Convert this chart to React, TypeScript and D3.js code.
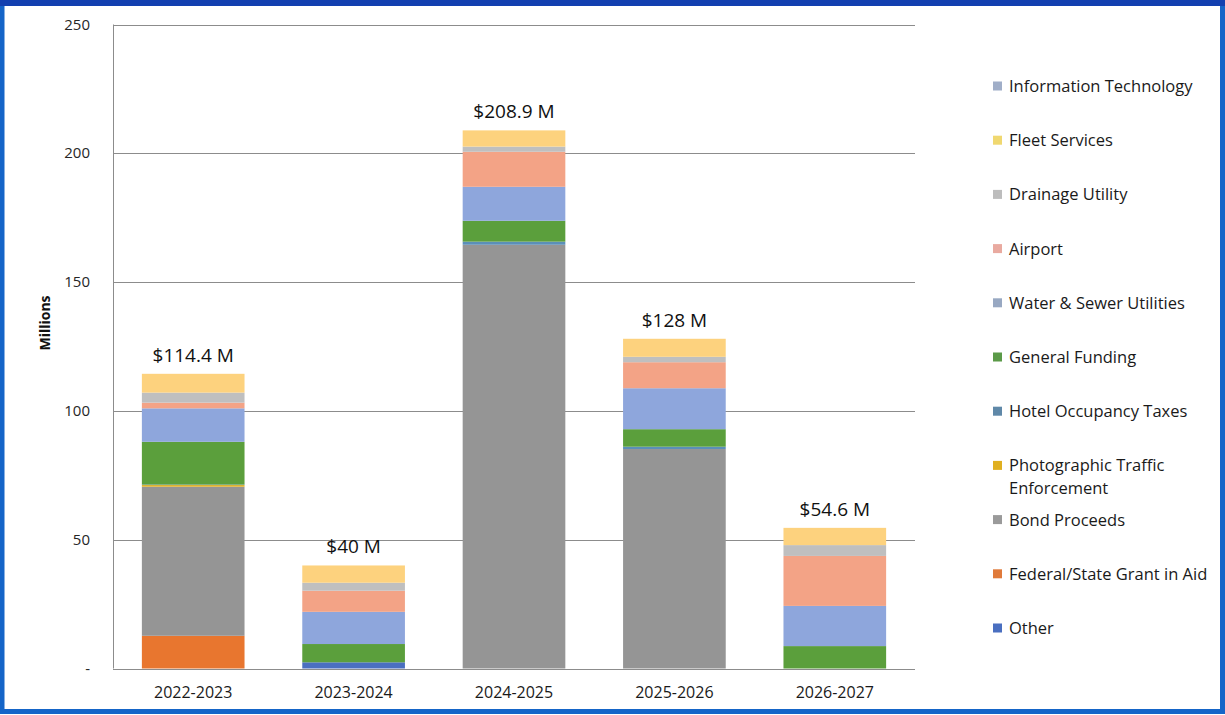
import React, { useEffect, useRef } from "react";
import * as d3 from "d3";

const categories = ["2022-2023", "2023-2024", "2024-2025", "2025-2026", "2026-2027"];
const seriesNames = [
  "Other",
  "Federal/State Grant in Aid",
  "Bond Proceeds",
  "Photographic Traffic Enforcement",
  "Hotel Occupancy Taxes",
  "General Funding",
  "Water & Sewer Utilities",
  "Airport",
  "Drainage Utility",
  "Fleet Services",
  "Information Technology",
];
const other = [0, 2.4, 0, 0, 0];
const federal = [12.7, 0, 0, 0, 0];
const bond = [57.9, 0, 164.5, 85.2, 0];
const photographic = [0.6, 0, 0, 0, 0];
const hotel = [0.2, 0, 1.2, 0.9, 0];
const general = [16.6, 7.1, 8.1, 6.8, 8.7];
const waterSewer = [13.0, 12.5, 13.2, 15.9, 15.6];
const airport = [2.2, 8.2, 13.6, 10.1, 19.4];
const drainage = [3.9, 3.1, 2.0, 2.1, 4.2];
const fleet = [7.3, 6.7, 6.3, 7.0, 6.7];
const infoTech = [0, 0, 0, 0, 0];
const totalLabels = ["$114.4 M", "$40 M", "$208.9 M", "$128 M", "$54.6 M"];
const yTicks = [0, 50, 100, 150, 200, 250];

const seriesValues = [other, federal, bond, photographic, hotel, general, waterSewer, airport, drainage, fleet, infoTech];
const colors = [
  "#4a6fc0",
  "#e8762f",
  "#959595",
  "#e8b010",
  "#5b8fb8",
  "#5b9f3c",
  "#8ea6dc",
  "#f3a386",
  "#bfbfbf",
  "#fdd27e",
  "#a3b5d6",
];
const legendSwatch = [
  "#4a6fc0",
  "#e07a3a",
  "#9a9a9a",
  "#e0b020",
  "#5f88a8",
  "#5b9a48",
  "#98a8c2",
  "#e9aaa0",
  "#bdbdbd",
  "#f0d870",
  "#a0aec8",
];

export default function App() {
  const ref = useRef<SVGSVGElement | null>(null);
  useEffect(() => {
    document.body.style.margin = "0";
    const svg = d3.select(ref.current);
    svg.selectAll("*").remove();
    const W = 1225, H = 715;
    const left = 113, right = 915, top = 24.5, bottom = 668.5;
    const font = "'Open Sans', 'Noto Sans', sans-serif";

    svg.append("rect").attr("x", 0).attr("y", 0).attr("width", W).attr("height", H).attr("fill", "#ffffff");

    const x = d3.scaleBand<string>().domain(categories).range([left, right]).paddingInner(0.36).paddingOuter(0.18);
    const y = d3.scaleLinear().domain([0, 250]).range([bottom, top]);

    // gridlines
    svg.append("g").selectAll("line").data(yTicks).join("line")
      .attr("x1", left).attr("x2", right)
      .attr("y1", (d) => Math.round(y(d)) + 0.5).attr("y2", (d) => Math.round(y(d)) + 0.5)
      .attr("stroke", "#8c8c8c").attr("stroke-width", 1);
    svg.append("line").attr("x1", left + 0.5).attr("x2", left + 0.5).attr("y1", y(250)).attr("y2", y(0))
      .attr("stroke", "#8c8c8c");

    // y tick labels
    svg.append("g").selectAll("text").data(yTicks).join("text")
      .attr("x", 90).attr("y", (d) => y(d) + 5)
      .attr("text-anchor", "end").attr("font-family", font).attr("font-size", 15).attr("fill", "#262626")
      .text((d) => (d === 0 ? "-" : String(d)));

    svg.append("text")
      .attr("transform", `translate(50,323) rotate(-90)`)
      .attr("text-anchor", "middle").attr("font-family", font).attr("font-size", 14).attr("font-weight", "bold")
      .attr("fill", "#111").text("Millions");

    // stacks
    const table = categories.map((c, i) => {
      const row: Record<string, number | string> = { cat: c };
      seriesNames.forEach((s, j) => (row[s] = seriesValues[j][i]));
      return row;
    });
    const stack = d3.stack<Record<string, number | string>>().keys(seriesNames).value((d, k) => d[k] as number);
    const layers = stack(table);
    svg.append("g").selectAll("g").data(layers).join("g")
      .attr("fill", (_d, i) => colors[i])
      .selectAll("rect").data((d) => d).join("rect")
      .attr("x", (d) => x(d.data.cat as string)!)
      .attr("width", x.bandwidth())
      .attr("y", (d) => y(d[1]))
      .attr("height", (d) => Math.max(0, y(d[0]) - y(d[1])));

    // totals
    const totals = categories.map((_c, i) => d3.sum(seriesValues, (s) => s[i]));
    svg.append("g").selectAll("text").data(categories).join("text")
      .attr("x", (d) => x(d)! + x.bandwidth() / 2)
      .attr("y", (_d, i) => y(totals[i]) - 12)
      .attr("text-anchor", "middle").attr("font-family", font).attr("font-size", 19).attr("fill", "#111")
      .text((_d, i) => totalLabels[i]);

    // x labels
    svg.append("g").selectAll("text").data(categories).join("text")
      .attr("x", (d) => x(d)! + x.bandwidth() / 2)
      .attr("y", 698)
      .attr("text-anchor", "middle").attr("font-family", font).attr("font-size", 16)
      .attr("fill", "#1a1a1a").text((d) => d);

    // legend (reversed)
    const legendOrder = seriesNames.map((_s, i) => i).reverse();
    const lg = svg.append("g");
    const lfs = 16.5;
    legendOrder.forEach((si, k) => {
      const cy = 86 + k * 54.2;
      lg.append("rect").attr("x", 993).attr("y", cy - 4.5).attr("width", 9).attr("height", 9).attr("fill", legendSwatch[si]);
      const name = seriesNames[si];
      if (name === "Photographic Traffic Enforcement") {
        lg.append("text").attr("x", 1009).attr("y", cy + 6).attr("font-family", font).attr("font-size", lfs).attr("fill", "#1a1a1a").text("Photographic Traffic");
        lg.append("text").attr("x", 1009).attr("y", cy + 29).attr("font-family", font).attr("font-size", lfs).attr("fill", "#1a1a1a").text("Enforcement");
      } else {
        lg.append("text").attr("x", 1009).attr("y", cy + 6).attr("font-family", font).attr("font-size", lfs).attr("fill", "#1a1a1a").text(name);
      }
    });

    // blue frame
    svg.append("rect").attr("x", 2).attr("y", 3.5).attr("width", W - 4.5).attr("height", H - 7)
      .attr("fill", "none").attr("stroke", "#1565c8").attr("stroke-width", 5);
    svg.append("rect").attr("x", 0).attr("y", 0).attr("width", W).attr("height", 6).attr("fill", "#1340b0");
  }, []);
  return <svg ref={ref} width={1225} height={715} style={{ display: "block" }} />;
}
